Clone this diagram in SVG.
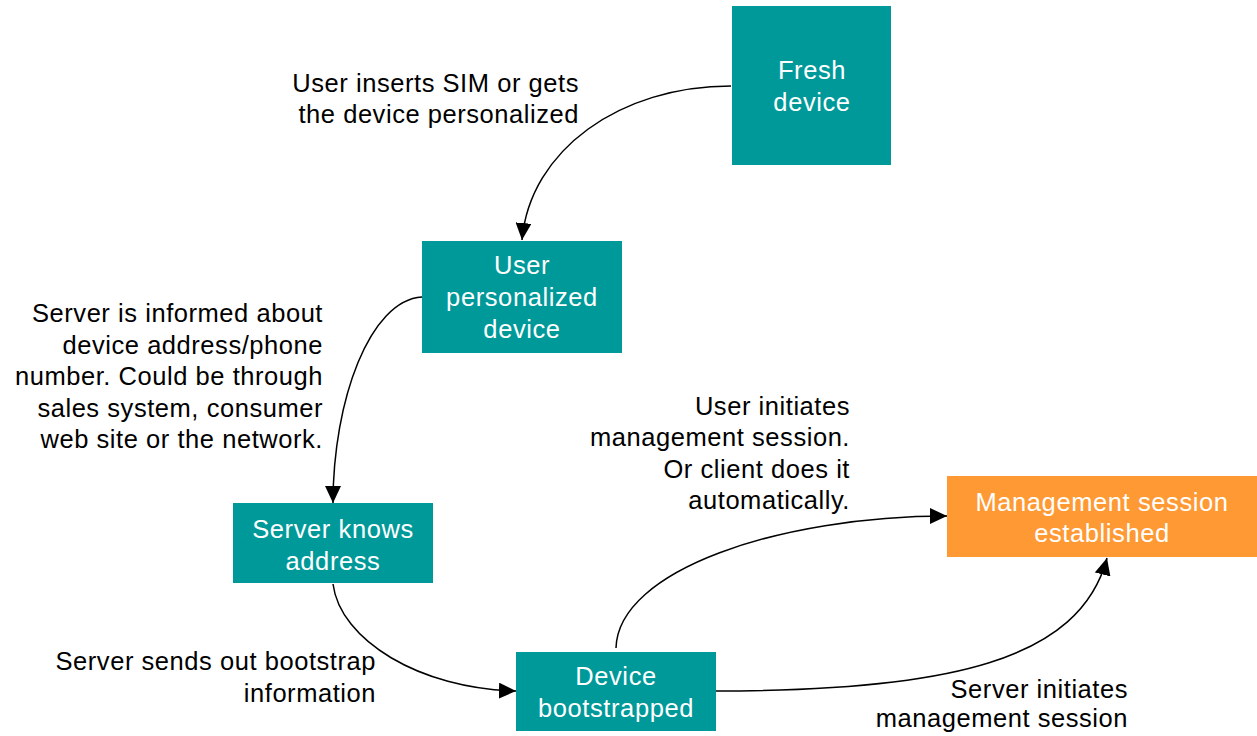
<svg xmlns="http://www.w3.org/2000/svg" width="1257" height="736" viewBox="0 0 1257 736">
<style>
.teal{fill:#009999}
.orange{fill:#FF9933}
.nt{font-family:"Liberation Sans",Arial,sans-serif;font-size:25.5px;letter-spacing:0.6px;fill:#ffffff;text-anchor:middle}
.lt{font-family:"Liberation Sans",Arial,sans-serif;font-size:25.5px;letter-spacing:0.55px;fill:#000000;text-anchor:end}
.conn{fill:none;stroke:#000;stroke-width:1.5}
</style>
<defs>
<marker id="arr" markerUnits="userSpaceOnUse" markerWidth="18" markerHeight="16" refX="17" refY="8" orient="auto">
<path d="M0,0 L17,8 L0,16 Z" fill="#000"/>
</marker>
</defs>
<rect width="1257" height="736" fill="#fff"/>
<g id="connectors">
<path class="conn" d="M731,86 C620,86 530,150 522,240" marker-end="url(#arr)"/>
<path class="conn" d="M422,297 C370,300 333,400 333,503" marker-end="url(#arr)"/>
<path class="conn" d="M333,584 C340,640 420,689 516,691" marker-end="url(#arr)"/>
<path class="conn" d="M616,648 C618,570 780,516 947,516" marker-end="url(#arr)"/>
<path class="conn" d="M716,691 C950,691 1080,660 1107,558" marker-end="url(#arr)"/>
</g>
<g id="fresh">
<rect class="teal" x="732" y="6" width="159" height="159"/>
<text class="nt" x="812" y="79">Fresh</text>
<text class="nt" x="812" y="111">device</text>
</g>
<g id="personalized">
<rect class="teal" x="422" y="241" width="200" height="112"/>
<text class="nt" x="522" y="274">User</text>
<text class="nt" x="522" y="306">personalized</text>
<text class="nt" x="522" y="338">device</text>
</g>
<g id="knows">
<rect class="teal" x="233" y="503" width="200" height="80"/>
<text class="nt" x="333" y="538">Server knows</text>
<text class="nt" x="333" y="570">address</text>
</g>
<g id="bootstrapped">
<rect class="teal" x="516" y="652" width="200" height="79"/>
<text class="nt" x="616" y="685">Device</text>
<text class="nt" x="616" y="717">bootstrapped</text>
</g>
<g id="session">
<rect class="orange" x="947" y="476" width="310" height="81"/>
<text class="nt" x="1102" y="511">Management session</text>
<text class="nt" x="1102" y="542">established</text>
</g>
<g id="labels">
<text class="lt" x="579" y="92">User inserts SIM or gets</text>
<text class="lt" x="579" y="123">the device personalized</text>
<text class="lt" x="323" y="322">Server is informed about</text>
<text class="lt" x="323" y="353.5">device address/phone</text>
<text class="lt" x="323" y="385">number. Could be through</text>
<text class="lt" x="323" y="416.5">sales system, consumer</text>
<text class="lt" x="323" y="448">web site or the network.</text>
<text class="lt" x="850" y="415">User initiates</text>
<text class="lt" x="850" y="446">management session.</text>
<text class="lt" x="850" y="478">Or client does it</text>
<text class="lt" x="850" y="509">automatically.</text>
<text class="lt" x="376" y="670">Server sends out bootstrap</text>
<text class="lt" x="376" y="702">information</text>
<text class="lt" x="1128" y="698">Server initiates</text>
<text class="lt" x="1128" y="727">management session</text>
</g>
</svg>
